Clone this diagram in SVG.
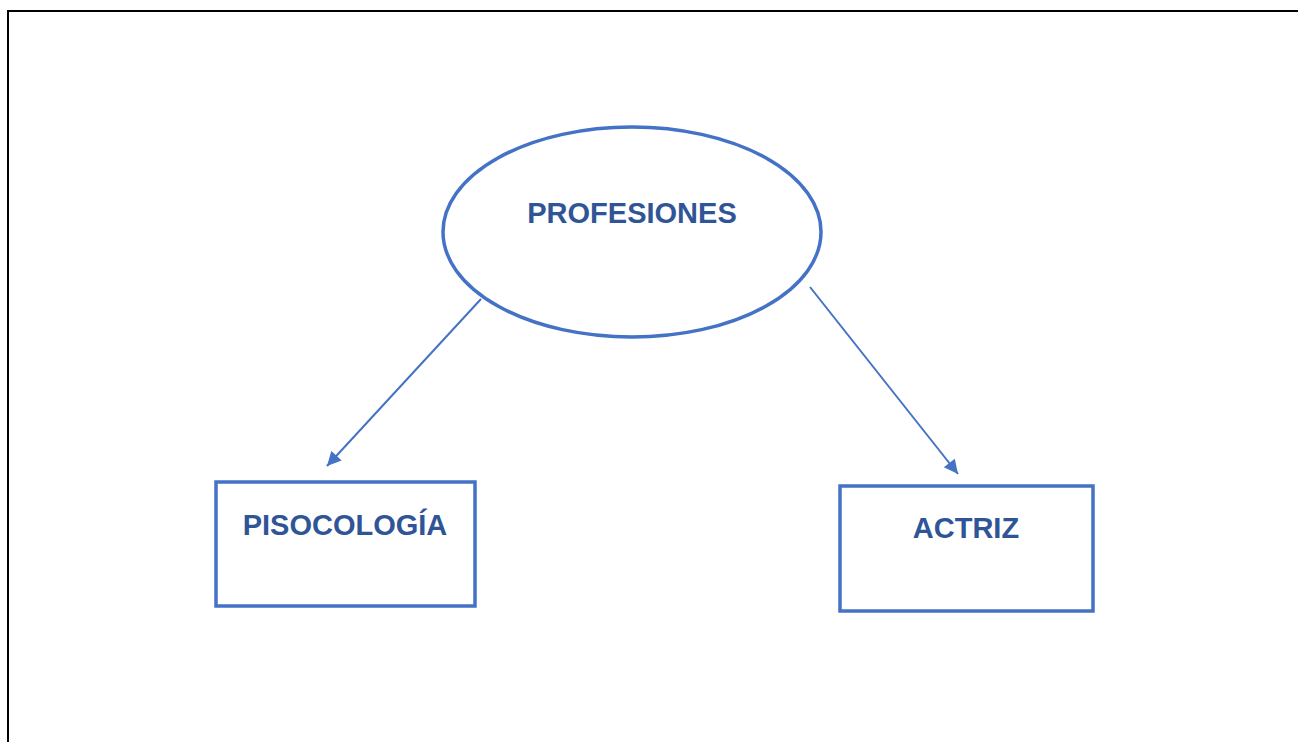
<svg xmlns="http://www.w3.org/2000/svg" width="1298" height="742" viewBox="0 0 1298 742">
<style>
.node{fill:#fff;stroke:#4472C4;stroke-width:3.5}
.lbl{font-family:"Liberation Sans",Arial,sans-serif;font-weight:bold;font-size:29px;fill:#2F5597;text-anchor:middle}
.conn{stroke:#4472C4;stroke-width:2;fill:none}
</style>
<defs>
<marker id="arr" viewBox="0 0 10 10" refX="10" refY="5" markerWidth="8" markerHeight="7" markerUnits="strokeWidth" orient="auto">
<path d="M0,0 L10,5 L0,10 z" fill="#4472C4"/>
</marker>
</defs>
<rect width="1298" height="742" fill="#fff"/>
<path d="M8,742 V11 H1298" fill="none" stroke="#000" stroke-width="2"/>
<g id="n-profesiones">
<ellipse class="node" cx="632" cy="232" rx="189" ry="105"/>
<text class="lbl" x="632" y="223">PROFESIONES</text>
</g>
<g id="n-psicologia">
<rect class="node" x="216" y="482" width="259" height="124"/>
<text class="lbl" x="345" y="535">PISOCOLOGÍA</text>
</g>
<g id="n-actriz">
<rect class="node" x="840" y="486" width="253" height="125"/>
<text class="lbl" x="966" y="538">ACTRIZ</text>
</g>
<g id="connectors">
<line class="conn" x1="481" y1="299" x2="327" y2="466" marker-end="url(#arr)"/>
<line class="conn" x1="810" y1="287" x2="958" y2="474" marker-end="url(#arr)"/>
</g>
</svg>
